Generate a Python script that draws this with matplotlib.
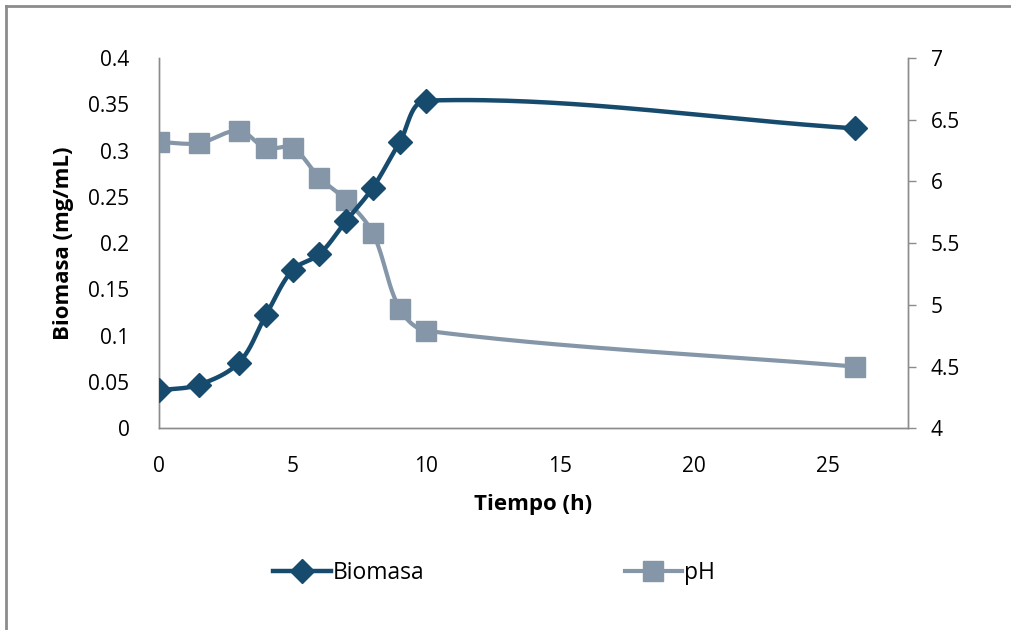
import numpy as np
import matplotlib
matplotlib.use("Agg")
import matplotlib.pyplot as plt
from matplotlib.lines import Line2D

plt.rcParams['font.family'] = ['Open Sans', 'DejaVu Sans']

# Time points (h)
tiempo = [0, 1.5, 3, 4, 5, 6, 7, 8, 9, 10, 26]
# Biomass (mg/mL)
biomasa = [0.041, 0.047, 0.071, 0.122, 0.171, 0.188, 0.224, 0.260, 0.309, 0.354, 0.324]
# pH
ph = [6.32, 6.31, 6.41, 6.27, 6.27, 6.03, 5.85, 5.58, 4.97, 4.79, 4.50]

x_ticks = [0, 5, 10, 15, 20, 25]
y_left_ticks = [0, 0.05, 0.1, 0.15, 0.2, 0.25, 0.3, 0.35, 0.4]
y_left_labels = ['0', '0.05', '0.1', '0.15', '0.2', '0.25', '0.3', '0.35', '0.4']
y_right_ticks = [4, 4.5, 5, 5.5, 6, 6.5, 7]
y_right_labels = ['4', '4.5', '5', '5.5', '6', '6.5', '7']

c_bio = '#174B6E'
c_ph = '#8496A8'
c_axis = '#8C8C8C'


def smooth(ax, x, y, n=60):
    """Bezier curve through every point, built in screen space."""
    pts = ax.transData.transform(np.column_stack([x, y]))
    m = len(pts)
    tang = np.zeros_like(pts)
    for i in range(m):
        a = pts[max(i - 1, 0)]
        b = pts[min(i + 1, m - 1)]
        d = b - a
        tang[i] = d / np.hypot(*d)
    t = np.linspace(0, 1, n)[:, None]
    out = []
    for i in range(m - 1):
        p0, p3 = pts[i], pts[i + 1]
        seg = np.hypot(*(p3 - p0)) / 3.0
        p1 = p0 + tang[i] * seg
        p2 = p3 - tang[i + 1] * seg
        b = (1 - t) ** 3 * p0 + 3 * (1 - t) ** 2 * t * p1 \
            + 3 * (1 - t) * t ** 2 * p2 + t ** 3 * p3
        out.append(b if i == 0 else b[1:])
    curve = np.vstack(out)
    data = ax.transData.inverted().transform(curve)
    return data[:, 0], data[:, 1]


fig = plt.figure(figsize=(10.12, 6.3), dpi=100)

# outer chart frame (left and top edges fall inside the canvas)
fig.add_artist(Line2D([6.5 / 1012, 6.5 / 1012], [-0.05, 1 - 5.5 / 630],
                      transform=fig.transFigure, color=c_axis, lw=2.0))
fig.add_artist(Line2D([6.5 / 1012, 1.05], [1 - 5.5 / 630, 1 - 5.5 / 630],
                      transform=fig.transFigure, color=c_axis, lw=2.0))

ax = fig.add_axes([0.1568, 0.3202, 0.7408, 0.5877])
ax2 = ax.twinx()

ax.set_xlim(0, 28)
ax.set_ylim(0, 0.4)
ax2.set_xlim(0, 28)
ax2.set_ylim(4, 7)

hx, hy = smooth(ax2, tiempo, ph)
bx, by = smooth(ax, tiempo, biomasa)

ax2.plot(hx, hy, color=c_ph, lw=3.0, solid_capstyle='round', zorder=2)
ax2.plot(tiempo, ph, ls='none', marker='s', ms=14, color=c_ph, zorder=3)

ax.plot(bx, by, color=c_bio, lw=3.2, solid_capstyle='round', zorder=4)
ax.plot(tiempo, biomasa, ls='none', marker='D', ms=12, color=c_bio, zorder=5)

# biomass axis drawn above the pH axis
ax.set_zorder(ax2.get_zorder() + 1)
ax.patch.set_visible(False)

ax.set_xticks(x_ticks)
ax.set_yticks(y_left_ticks)
ax.set_yticklabels(y_left_labels)
ax2.set_yticks(y_right_ticks)
ax2.set_yticklabels(y_right_labels)

for a in (ax, ax2):
    for s in a.spines.values():
        s.set_color(c_axis)
        s.set_linewidth(1.0)
    a.spines['top'].set_visible(False)

ax.tick_params(axis='x', length=0, labelsize=15, pad=20)
ax.tick_params(axis='y', length=0, labelsize=15, pad=21)
ax2.tick_params(axis='y', length=6, width=1.0, color=c_axis, labelsize=15, pad=10)

ax.set_xlabel('Tiempo (h)', fontsize=16, fontweight='bold', labelpad=12)
ax.set_ylabel('Biomasa (mg/mL)', fontsize=16, fontweight='bold', labelpad=10)

handles = [
    Line2D([], [], color=c_bio, lw=3.2, marker='D', ms=12),
    Line2D([], [], color=c_ph, lw=3.0, marker='s', ms=14),
]
fig.legend(handles, ['Biomasa', 'pH'], loc='center', ncol=2,
           bbox_to_anchor=(0.4885, 0.09), frameon=False, fontsize=16.5,
           handlelength=2.5, handletextpad=0.1, columnspacing=8.73, numpoints=1)

fig.savefig('out.png', dpi=100)
